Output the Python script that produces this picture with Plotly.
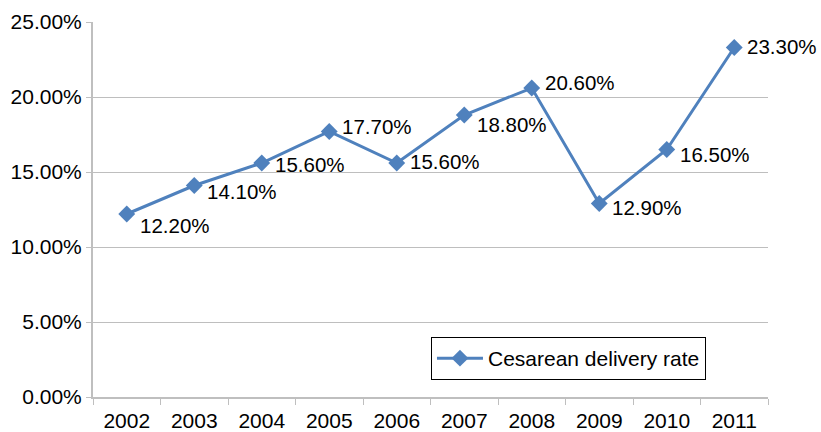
import plotly.graph_objects as go

years = ["2002", "2003", "2004", "2005", "2006", "2007", "2008", "2009", "2010", "2011"]
rates = [0.122, 0.141, 0.156, 0.177, 0.156, 0.188, 0.206, 0.129, 0.165, 0.233]
labels = ["12.20%", "14.10%", "15.60%", "17.70%", "15.60%", "18.80%", "20.60%", "12.90%", "16.50%", "23.30%"]
y_ticks = [0, 0.05, 0.10, 0.15, 0.20, 0.25]
y_ticklabels = ["0.00%", "5.00%", "10.00%", "15.00%", "20.00%", "25.00%"]

# label vertical offsets (pixels, style only)
label_yshift = [-11, -6, -1, 5, 2, -9, 6, -4, -5, 1]

FONT = "Liberation Sans, Arial, sans-serif"
BLUE = "#4F81BD"

fig = go.Figure()
fig.add_trace(go.Scatter(
    x=years, y=rates, mode="lines+markers", name="Cesarean delivery rate",
    line=dict(color=BLUE, width=3),
    marker=dict(symbol="diamond", size=13, color=BLUE),
))

for i, (yv, t, s) in enumerate(zip(rates, labels, label_yshift)):
    fig.add_annotation(x=i, y=yv, xref="x", yref="y", text=t, showarrow=False,
                       xanchor="left", yanchor="middle",
                       xshift=11, yshift=s, font=dict(family=FONT, size=20.5, color="#000000"))

fig.update_layout(
    template="none",
    width=821, height=432,
    margin=dict(l=93, r=53, t=22, b=35, pad=0),
    paper_bgcolor="white", plot_bgcolor="white",
    font=dict(family=FONT, size=21, color="#000000"),
    showlegend=True,
    legend=dict(x=0.5007, y=0.16, xanchor="left", yanchor="top",
                bordercolor="#000000", borderwidth=1, bgcolor="white",
                itemwidth=46,
                font=dict(family=FONT, size=21)),
    xaxis=dict(type="category", range=[-0.5, 9.5], showgrid=False, automargin=False,
               showline=True, linecolor="#BFBFBF", linewidth=2,
               ticks="outside", tickson="boundaries", ticklen=6, tickcolor="#BFBFBF",
               ticklabelstandoff=4,
               tickfont=dict(family=FONT, size=21)),
    yaxis=dict(range=[0, 0.25], tickvals=y_ticks, ticktext=y_ticklabels, automargin=False,
               showgrid=True, gridcolor="#BEBEBE", gridwidth=1,
               showline=True, linecolor="#BFBFBF", linewidth=2,
               ticks="outside", ticklen=5, tickcolor="#BFBFBF",
               zeroline=False, tickfont=dict(family=FONT, size=21)),
)

# remove the page's default 8px body margin so the figure fills the window exactly
fig.write_html("out.html", config={"displayModeBar": False},
               post_script="document.body.style.margin='0px';document.body.style.overflow='hidden';")
